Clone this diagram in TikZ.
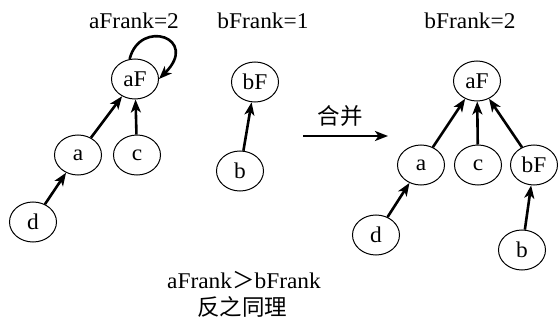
\documentclass[tikz,border=0pt]{standalone}
\usepackage{fontspec}
\setmainfont{Liberation Serif}[FakeStretch=1.04]
\newfontfamily\cjk{Noto Sans CJK SC}
\usetikzlibrary{arrows.meta,shapes.geometric}
\begin{document}
\begin{tikzpicture}[x=1pt,y=-1pt,
  every node/.style={font=\fontsize{22.5}{26}\selectfont},
  vert/.style={draw,ellipse,line width=1pt,minimum width=47pt,minimum height=40pt,inner sep=0pt},
  arr/.style={line width=2.6pt,-{Stealth[length=13pt,width=10pt,inset=3.5pt]}},
  lbl/.style={inner sep=0pt,anchor=base}]
\useasboundingbox (0,0) rectangle (558,321);
% left tree
\node[lbl] (t1) at (134,29) {aFrank=2};
\node[vert] (laF) at (135,79) {aF};
\node[vert] (la) at (78,155) {a};
\node[vert] (lc) at (137,155) {c};
\node[vert] (ld) at (33,222) {d};
\draw[arr] (la) -- (laF);
\draw[arr] (lc) -- (laF);
\draw[arr] (ld) -- (la);
\draw[arr] (laF.105) .. controls (140,18) and (200,38) .. (laF.east);
% middle tree
\node[lbl] (t2) at (263,29) {bFrank=1};
\node[vert] (mbF) at (255,82) {bF};
\node[vert] (mb) at (240,171) {b};
\draw[arr] (mb) -- (mbF);
% merge arrow
\coordinate (m1) at (303,136);
\coordinate (m2) at (388,136);
\draw[arr] (m1) -- (m2);
\node[lbl] (mt) at (340,125) {\cjk 合并};
% right tree
\node[lbl] (t3) at (470,29) {bFrank=2};
\node[vert] (raF) at (477,81) {aF};
\node[vert] (ra) at (421,165) {a};
\node[vert] (rc) at (478,165) {c};
\node[vert] (rbF) at (534,165) {bF};
\node[vert] (rd) at (376,235) {d};
\node[vert] (rb) at (522,250) {b};
\draw[arr] (ra) -- (raF);
\draw[arr] (rc) -- (raF);
\draw[arr] (rbF) -- (raF);
\draw[arr] (rd) -- (ra);
\draw[arr] (rb) -- (rbF);
% bottom text
\node[lbl] (b1) at (244,288) {aFrank{\cjk ＞}bFrank};
\node[lbl] (b2) at (242,316) {\cjk 反之同理};
\end{tikzpicture}
\end{document}
